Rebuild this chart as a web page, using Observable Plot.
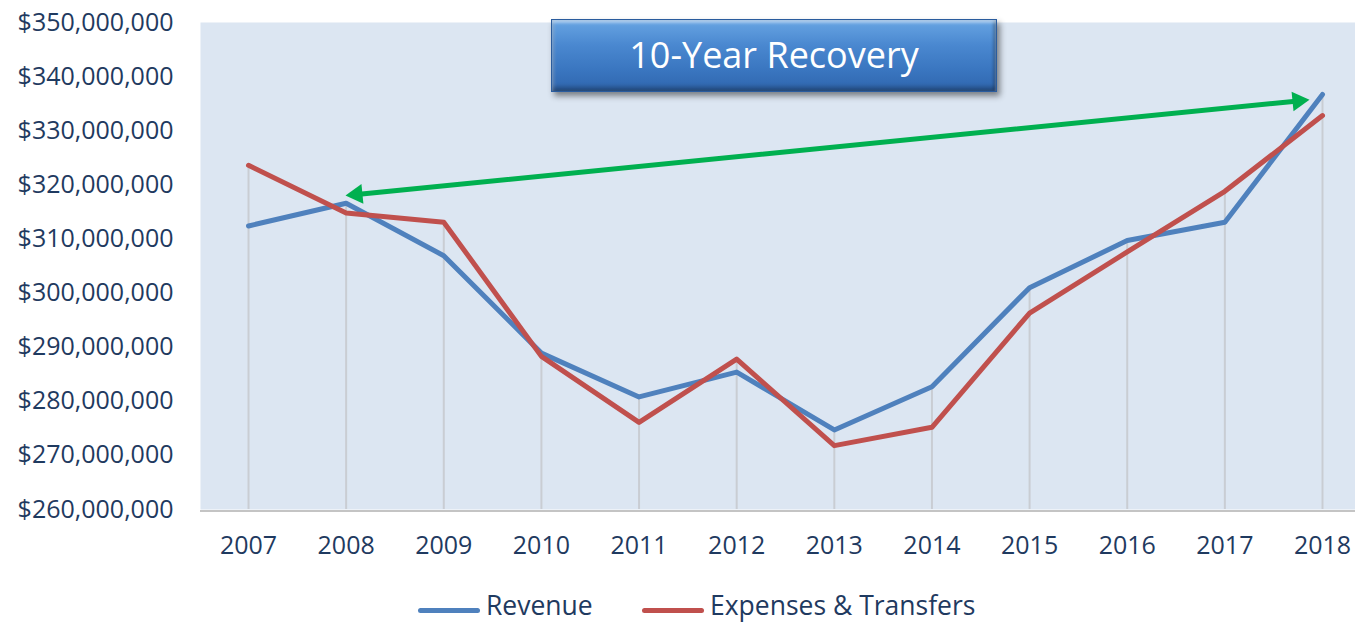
<!DOCTYPE html>
<html>
<head>
<meta charset="utf-8">
<script src="https://cdn.jsdelivr.net/npm/d3@7"></script>
<script src="https://cdn.jsdelivr.net/npm/@observablehq/plot@0.6"></script>
<style>
  html, body { margin: 0; padding: 0; background: #fff; }
  #wrap { position: relative; width: 1355px; height: 623px; overflow: hidden; font-family: "Open Sans", sans-serif; }
  #title {
    position: absolute; left: 551px; top: 19px; width: 446px; height: 73px;
    box-sizing: border-box;
    background: linear-gradient(#68A5E3 0%, #4A88D0 35%, #3A76C0 70%, #2F66AE 100%);
    border: 1px solid #2A5C9E;
    box-shadow: inset 0 3px 3px rgba(255,255,255,0.45), inset 0 -4px 4px rgba(0,0,0,0.28), inset 3px 0 3px rgba(255,255,255,0.15), inset -3px 0 3px rgba(0,0,0,0.2), 3px 4px 6px rgba(0,0,0,0.45);
    color: #fff; font-size: 36px; line-height: 69px; text-align: center;
  }
  .sw { position: absolute; top: 607.5px; width: 62px; height: 5px; border-radius: 3px; }
  .lab { position: absolute; top: 586.7px; font-size: 26.5px; line-height: 36px; color: #1F3A60; white-space: nowrap; }
</style>
</head>
<body>
<div id="wrap">
  <div id="chart"></div>
  <div id="title">10-Year Recovery</div>
  <div id="legend"></div>
</div>
<script>
const years = [2007, 2008, 2009, 2010, 2011, 2012, 2013, 2014, 2015, 2016, 2017, 2018];
const revenue = [312.4, 316.6, 306.9, 288.9, 280.8, 285.4, 274.7, 282.7, 301.0, 309.7, 313.1, 336.7].map(v => v * 1e6);
const expenses = [323.6, 314.8, 313.1, 288.3, 276.1, 287.8, 271.8, 275.2, 296.3, 307.6, 318.8, 332.8].map(v => v * 1e6);
const yTicks = [260, 270, 280, 290, 300, 310, 320, 330, 340, 350].map(v => v * 1e6);
const seriesNames = ["Revenue", "Expenses & Transfers"];
const seriesColors = ["#4F81BD", "#C0504D"];
// double-headed annotation arrow (head centres, in data units)
const arrowHeads = [
  {x: 2008.109, y: 318.23e6, rotate: -95.67},
  {x: 2017.751, y: 335.51e6, rotate: 84.33}
];

const rows = years.map((y, i) => ({year: y, rev: revenue[i], exp: expenses[i], top: Math.max(revenue[i], expenses[i])}));

const chart = Plot.plot({
  width: 1355,
  height: 569,
  marginLeft: 200,
  marginRight: 0,
  marginTop: 22,
  marginBottom: 60,
  style: {fontFamily: "Open Sans, sans-serif", fontSize: "25px", color: "#1F3A60", background: "#fff"},
  x: {type: "linear", domain: [2006.5, 2018.5], range: [199.18, 1370.82]},
  y: {domain: [260e6, 350e6]},
  marks: [
    Plot.frame({fill: "#DCE6F2", stroke: null}),
    Plot.ruleY([260e6], {stroke: "#C4C4C4", strokeWidth: 2, dy: 1.5}),
    Plot.ruleX(rows, {x: "year", y1: 260e6, y2: "top", stroke: "#C9CDD3", strokeWidth: 2}),
    Plot.line(rows, {x: "year", y: "rev", stroke: seriesColors[0], strokeWidth: 5, strokeLinejoin: "round", strokeLinecap: "round"}),
    Plot.line(rows, {x: "year", y: "exp", stroke: seriesColors[1], strokeWidth: 5, strokeLinejoin: "round", strokeLinecap: "round"}),
    Plot.line(arrowHeads, {x: "x", y: "y", stroke: "#00B050", strokeWidth: 5}),
    Plot.dot(arrowHeads, {x: "x", y: "y", symbol: "triangle", r: 7.3, fill: "#00B050", stroke: null, rotate: "rotate"}),
    Plot.axisY(yTicks, {tickSize: 0, tickPadding: 27, tickFormat: d => "$" + d3.format(",")(d), fontSize: 25}),
    Plot.axisX(years, {tickSize: 0, tickPadding: 27, tickFormat: d => String(d), fontSize: 25})
  ]
});
document.getElementById("chart").appendChild(chart);

const lg = document.getElementById("legend");
const swLefts = [418, 642];
const labLefts = [486, 710];
seriesNames.forEach((n, i) => {
  const sw = document.createElement("div");
  sw.className = "sw";
  sw.style.left = swLefts[i] + "px";
  sw.style.background = seriesColors[i];
  lg.appendChild(sw);
  const lab = document.createElement("div");
  lab.className = "lab";
  lab.style.left = labLefts[i] + "px";
  lab.textContent = n;
  lg.appendChild(lab);
});
</script>
</body>
</html>
